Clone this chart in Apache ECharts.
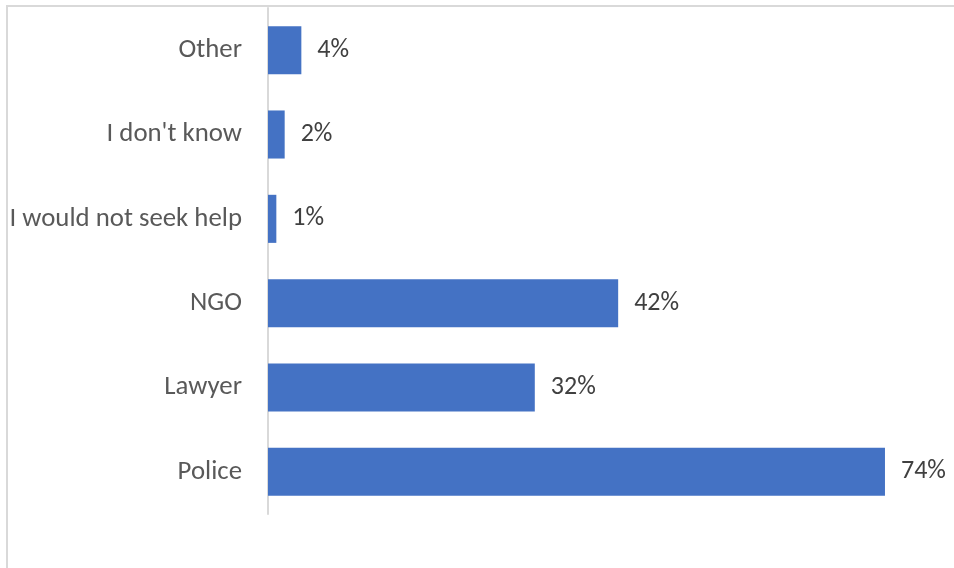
<!DOCTYPE html>
<html><head><meta charset="utf-8">
<script src="https://cdn.jsdelivr.net/npm/echarts@6/dist/echarts.min.js"></script>
<style>html,body{margin:0;padding:0;background:#fff}#c{width:954px;height:568px}</style>
</head><body><div id="c"></div>
<script>
const categories = ["Police", "Lawyer", "NGO", "I would not seek help", "I don't know", "Other"];
const values = [74, 32, 42, 1, 2, 4];
const xMax = 80;

const chart = echarts.init(document.getElementById('c'), null, {renderer: 'canvas'});
const FONT = 'Carlito, Lato, sans-serif';
chart.setOption({
  animation: false,
  graphic: [{type: 'rect', shape: {x: 7, y: 6, width: 1200, height: 1200}, style: {fill: 'none', stroke: '#D9D9D9', lineWidth: 2}, z: -1}],
  grid: {left: 268, right: 19, top: 8, bottom: 54, containLabel: false},
  xAxis: {type: 'value', min: 0, max: xMax, show: false},
  yAxis: {
    type: 'category', data: categories,
    axisLine: {show: true, lineStyle: {color: '#D9D9D9', width: 2}},
    axisTick: {show: false},
    axisLabel: {color: '#595959', fontFamily: FONT, fontSize: 26.8, margin: 26, padding: [3, 0, 0, 0]}
  },
  series: [{
    type: 'bar', data: values, barCategoryGap: '43%',
    itemStyle: {color: '#4472C4'},
    label: {show: true, position: 'right', distance: 16, formatter: p => p.value + '%', color: '#404040', fontFamily: FONT, fontSize: 26, padding: [3, 0, 0, 0]}
  }]
});
</script></body></html>
